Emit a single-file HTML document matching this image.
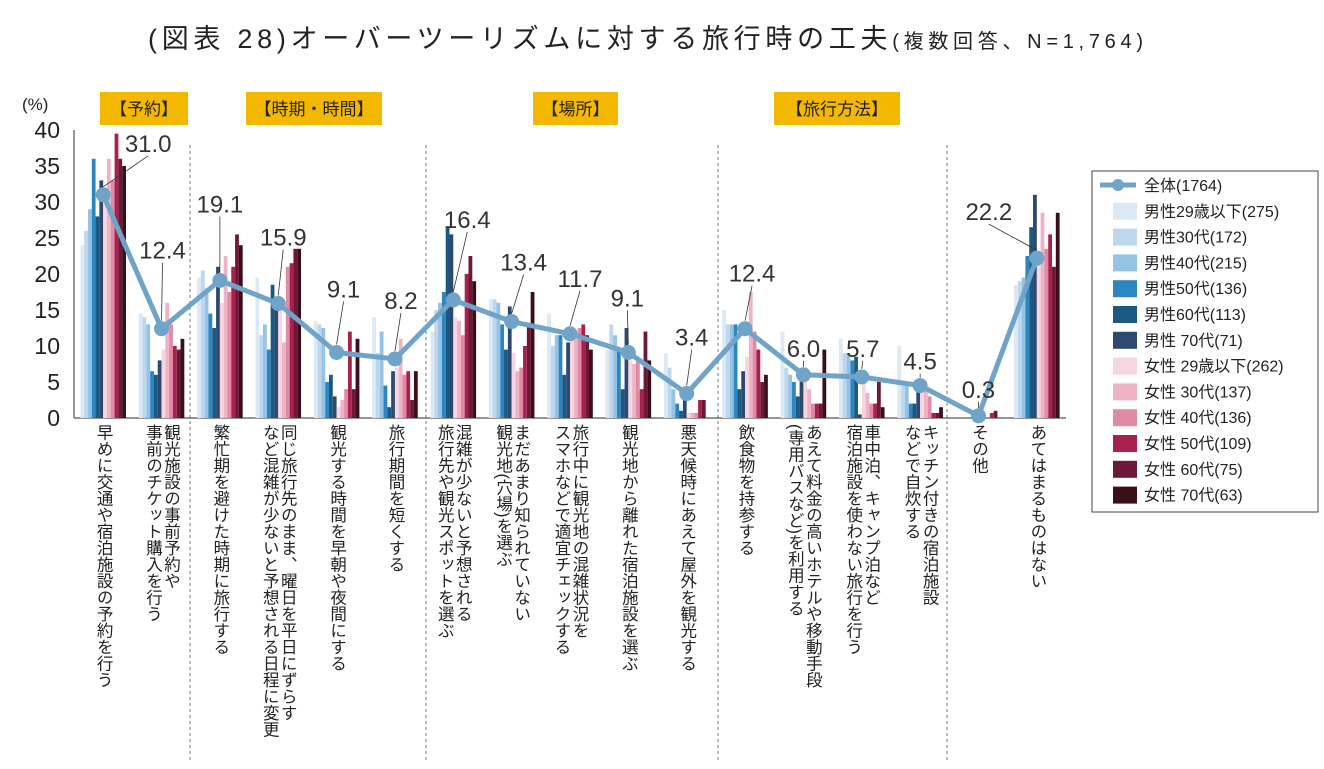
<!DOCTYPE html>
<html><head><meta charset="utf-8">
<style>
html,body{margin:0;padding:0;background:#fff;}
body{width:1324px;height:769px;overflow:hidden;position:relative;font-family:"Liberation Sans","Noto Sans CJK JP",sans-serif;color:#222;}
.xl{position:absolute;top:424px;writing-mode:vertical-rl;font-size:16.5px;line-height:18px;color:#222;white-space:nowrap;}
</style></head>
<body>
<svg id="chart" width="1324" height="769" xmlns="http://www.w3.org/2000/svg" style="position:absolute;left:0;top:0;font-family:'Liberation Sans','Noto Sans CJK JP',sans-serif;">
<text x="148" y="48" font-size="27" fill="#222" textLength="995" lengthAdjust="spacing">(図表 28)オーバーツーリズムに対する旅行時の工夫<tspan font-size="20">(複数回答、N=1,764)</tspan></text>
<g id="sections"></g>
<g id="axes"></g>
<g id="bars"></g>
<g id="line"></g>
<g id="labels"></g>
<g id="legend"></g>
</svg>
<div id="xlabels"></div>
<script>
const categories=["早めに交通や宿泊施設の予約を行う","観光施設の事前予約や<br>事前のチケット購入を行う","繁忙期を避けた時期に旅行する","同じ旅行先のまま、曜日を平日にずらす<br>など混雑が少ないと予想される日程に変更","観光する時間を早朝や夜間にする","旅行期間を短くする","混雑が少ないと予想される<br>旅行先や観光スポットを選ぶ","まだあまり知られていない<br>観光地(穴場)を選ぶ","旅行中に観光地の混雑状況を<br>スマホなどで適宜チェックする","観光地から離れた宿泊施設を選ぶ","悪天候時にあえて屋外を観光する","飲食物を持参する","あえて料金の高いホテルや移動手段<br>(専用バスなど)を利用する","車中泊、キャンプ泊など<br>宿泊施設を使わない旅行を行う","キッチン付きの宿泊施設<br>などで自炊する","その他","あてはまるものはない"];
const seriesNames=["男性29歳以下(275)","男性30代(172)","男性40代(215)","男性50代(136)","男性60代(113)","男性 70代(71)","女性 29歳以下(262)","女性 30代(137)","女性 40代(136)","女性 50代(109)","女性 60代(75)","女性 70代(63)"];
const totalValues=[31.0,12.4,19.1,15.9,9.1,8.2,16.4,13.4,11.7,9.1,3.4,12.4,6.0,5.7,4.5,0.3,22.2];
const seriesValues=[
[24,26,29,36,28,33,30,36,33,39.5,36,35],
[14.5,14,13,6.5,6,8,9.5,16,13,10,9.5,11],
[19.5,20.5,18,14.5,12.5,21,16,22.5,17.5,21,25.5,24],
[19.5,11.5,13,9.5,18.5,15.5,15,10.5,21,21.5,23.5,23.5],
[13.5,13,12.5,5,6,3,1.5,2.5,4,12,4,11],
[14,9,12,4.5,1.5,6.5,7,11,6,6.5,2.5,6.5],
[12,15,16,17.5,26.5,25.5,14,13.5,11.5,20,22.5,19],
[16.5,16.5,16,13,9.5,15.5,9,6.5,7,10,13,17.5],
[14.5,10,11.5,11.5,6,10.5,12,11,12.5,13,11.5,9.5],
[9.5,13,11.5,9.5,4,12.5,8,7.5,8,4,12,8],
[9,7,4,2,1,3,0.7,0.7,0.7,2.5,2.5,0],
[15,13,13,13,4,6.5,8.5,17.5,12,9.5,5,6],
[12,7,6,5,3,5.5,6.5,4,2,2,2,9.5],
[11,9,9,8,8.5,0.5,5,3.5,2,2,5,1.5],
[10,4.5,4.5,2,2,5,5.5,4,3,0.7,0.7,1.5],
[0,0,0,0,0,0,0.3,0,0,0.7,1,0],
[18.5,19,19.5,22.5,26.5,31,23,28.5,23.5,25.5,21,28.5]];
const yTicks=[0,5,10,15,20,25,30,35,40];
const sections=["【予約】","【時期・時間】","【場所】","【旅行方法】"];
const colors=["#dbe9f5","#bcd7ee","#95c3e5","#2e86c1","#1a5a82","#2d4a6e","#f7d6e1","#eeb3c5","#e08aa4","#a8204e","#6e1838","#3a0f1a"];
const labelDx=[45,1,0,5,7,6,14,12,10,-1,5,7,0,1,0,0,-48];
const labelDy=[-43,-70,-68,-58,-55,-50,-72,-51,-47,-46,-48,-47,-18,-20,-16,-18,-38];
const secX=[[100,188],[246,382],[533,618],[774,900]];
const sepX=[190,426,718,947];
const NS="http://www.w3.org/2000/svg";
const X0=74,X1=1066,Y0=418,Y1=130;
const step=(X1-X0)/categories.length;
const xc=i=>X0+step*(i+0.5);
const y=v=>Y0-(v/40)*(Y0-Y1);
function mk(tag,attrs,parent,text){const e=document.createElementNS(NS,tag);for(const k in attrs)e.setAttribute(k,attrs[k]);if(text!==undefined)e.textContent=text;parent.appendChild(e);return e;}
const gS=document.getElementById('sections'),gA=document.getElementById('axes'),gB=document.getElementById('bars'),gL=document.getElementById('line'),gT=document.getElementById('labels'),gG=document.getElementById('legend');
sections.forEach((s,i)=>{const r=mk('rect',{x:secX[i][0],y:92,width:secX[i][1]-secX[i][0],height:33,fill:'#f5b800'},gS);

const t=mk('text',{x:(secX[i][0]+secX[i][1])/2,y:115,'text-anchor':'middle','font-size':17,fill:'#222'},gS,s);
});
sepX.forEach(x=>{const l=mk('line',{x1:x,y1:145,x2:x,y2:760,stroke:'#777','stroke-dasharray':'3,3','stroke-width':1},gA);
});
const ut=mk('text',{x:22,y:110,'font-size':17,fill:'#222'},gA,'(%)');

yTicks.forEach(v=>{const t=mk('text',{x:60,y:y(v)+8,'text-anchor':'end','font-size':23,fill:'#222'},gA,v);
});
const ya=mk('line',{x1:X0,y1:Y1,x2:X0,y2:Y0,stroke:'#555','stroke-width':1.2},gA);

const bw=3.8;
seriesValues.forEach((vals,i)=>{vals.forEach((v,j)=>{const x=xc(i)-bw*6+j*bw;
const r=mk('rect',{x:x,y:y(v),width:bw,height:Y0-y(v),fill:colors[j]},gB);
});});
const xa=mk('line',{x1:X0,y1:Y0,x2:X1,y2:Y0,stroke:'#555','stroke-width':1.2},gA);

const pl=mk('polyline',{points:totalValues.map((v,i)=>xc(i)+','+y(v)).join(' '),fill:'none',stroke:'#6fa3c7','stroke-width':5,'stroke-linejoin':'round'},gL);

totalValues.forEach((v,i)=>{const px=xc(i),py=y(v);
const c=mk('circle',{cx:px,cy:py,r:7.5,fill:'#6fa3c7'},gL);

const lx=px+labelDx[i],ly=py+labelDy[i];
const ll=mk('line',{x1:lx,y1:ly+4,x2:px,y2:py-8,stroke:'#333','stroke-width':0.8},gT);

const t=mk('text',{x:lx,y:ly,'text-anchor':'middle','font-size':24,fill:'#333'},gT,v.toFixed(1));
});
const lb=mk('rect',{x:1092,y:171,width:226,height:341,fill:'#fff',stroke:'#444','stroke-width':1},gG);

const ll0=mk('line',{x1:1100,y1:185,x2:1136,y2:185,stroke:'#6fa3c7','stroke-width':5},gG);

const lc=mk('circle',{cx:1118,cy:185,r:6,fill:'#6fa3c7'},gG);

const lt0=mk('text',{x:1144,y:191,'font-size':16,fill:'#222'},gG,'全体(1764)');

seriesNames.forEach((n,j)=>{const yy=185+(j+1)*25.8;
const r=mk('rect',{x:1113,y:yy-8,width:24,height:17,fill:colors[j]},gG);

const t=mk('text',{x:1144,y:yy+6,'font-size':16,fill:'#222'},gG,n);
});
categories.forEach((c,i)=>{const d=document.createElement('div');d.className='xl';


d.innerHTML=c;document.body.appendChild(d);
const w=d.getBoundingClientRect().width;d.style.left=(xc(i)-w/2)+'px';});
</script>
</body></html>
